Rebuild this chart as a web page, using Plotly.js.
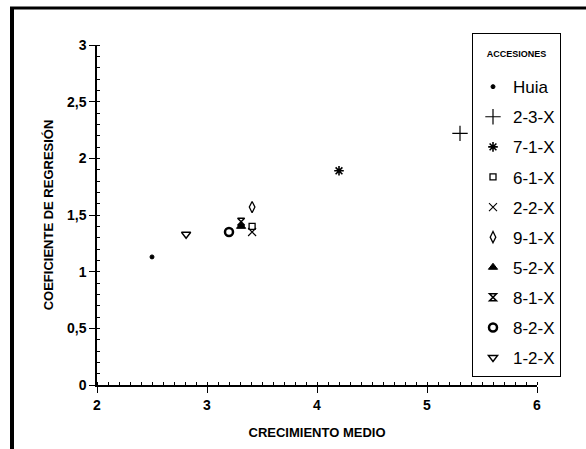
<!DOCTYPE html>
<html>
<head>
<meta charset="utf-8">
<script src="https://cdn.plot.ly/plotly-3.0.1.min.js"></script>
<style>html,body{margin:0;padding:0;background:#fff;}#chart{width:586px;height:449px;}</style>
</head>
<body>
<div id="chart"></div>
<script>
// Data
const accessions = ["Huia", "2-3-X", "7-1-X", "6-1-X", "2-2-X", "9-1-X", "5-2-X", "8-1-X", "8-2-X", "1-2-X"];
const crecimientoMedio = [2.5, 5.3, 4.2, 3.41, 3.41, 3.41, 3.31, 3.31, 3.2, 2.81];
const coeficienteRegresion = [1.13, 2.22, 1.89, 1.40, 1.35, 1.57, 1.40, 1.44, 1.35, 1.33];
const markerSymbols = ["circle", "cross-thin-open", "asterisk-open", "square-open", "x-thin-open", "diamond-tall-open", "triangle-up", "hourglass-open", "circle-open", "triangle-down-open"];
const markerSizes = [4, 11, 8, 6, 8, 8, 8, 7, 8, 8];
const markerLineWidths = [1, 1.2, 1.6, 1.3, 1.1, 1.3, 1, 1.5, 2.5, 1.4];

const FONT = "Liberation Sans, Arial, Helvetica, sans-serif";

const traces = accessions.map((name, i) => ({
  type: "scatter",
  mode: "markers",
  name: name,
  legendgroup: "g" + i,
  x: [crecimientoMedio[i]],
  y: [coeficienteRegresion[i]],
  marker: {
    symbol: markerSymbols[i],
    size: markerSizes[i],
    color: "#000",
    line: {color: "#000", width: markerLineWidths[i]}
  },
  hoverinfo: "name+x+y"
}));

const layout = {
  width: 586,
  height: 449,
  margin: {l: 97, r: 49, t: 45, b: 64},
  paper_bgcolor: "#fff",
  plot_bgcolor: "#fff",
  separators: ", ",
  font: {family: FONT, color: "#000"},
  showlegend: true,
  xaxis: {
    range: [2, 6],
    dtick: 1,
    tick0: 2,
    showgrid: false,
    zeroline: false,
    showline: true,
    linecolor: "#000",
    linewidth: 1.5,
    ticks: "outside",
    ticklen: 6,
    tickwidth: 1.2,
    tickcolor: "#000",
    tickfont: {family: FONT, size: 14, weight: 700, color: "#000"},
    minor: {dtick: 0.1, ticks: "inside", ticklen: 3, tickwidth: 1, tickcolor: "#000", showgrid: false},
    title: {text: "CRECIMIENTO MEDIO", font: {family: FONT, size: 13, weight: 700, color: "#000"}, standoff: 16}
  },
  yaxis: {
    range: [0, 3],
    dtick: 0.5,
    tick0: 0,
    showgrid: false,
    zeroline: false,
    showline: true,
    linecolor: "#000",
    linewidth: 1.5,
    ticks: "outside",
    ticklen: 6,
    tickwidth: 1.2,
    tickcolor: "#000",
    tickfont: {family: FONT, size: 14, weight: 700, color: "#000"},
    minor: {dtick: 0.1, ticks: "inside", ticklen: 3, tickwidth: 1, tickcolor: "#000", showgrid: false},
    title: {text: "COEFICIENTE DE REGRESIÓN", font: {family: FONT, size: 13, weight: 700, color: "#000"}, standoff: 10}
  },
  legend: {
    x: (472 - 97) / 440,
    xanchor: "left",
    y: (385 - 33) / 340,
    yanchor: "top",
    maxheight: 420,
    traceorder: "grouped",
    tracegroupgap: 5,
    bgcolor: "#fff",
    bordercolor: "#000",
    borderwidth: 1,
    font: {family: FONT, size: 17, color: "#000"},
    title: {text: "\u00a0<br>ACCESIONES<br>\u00a0", side: "top center", font: {family: FONT, size: 9, weight: 700, color: "#000"}},
    itemclick: false,
    itemdoubleclick: false
  },
  shapes: [
    {type: "line", xref: "paper", yref: "paper", x0: (12 - 97) / 440, x1: (12 - 97) / 440, y0: (385 - 7) / 340, y1: (385 - 460) / 340, line: {color: "#000", width: 4}},
    {type: "line", xref: "paper", yref: "paper", x0: (10 - 97) / 440, x1: (600 - 97) / 440, y0: (385 - 8) / 340, y1: (385 - 8) / 340, line: {color: "#000", width: 3}}
  ]
};

Plotly.newPlot("chart", traces, layout, {displayModeBar: false});
</script>
</body>
</html>
